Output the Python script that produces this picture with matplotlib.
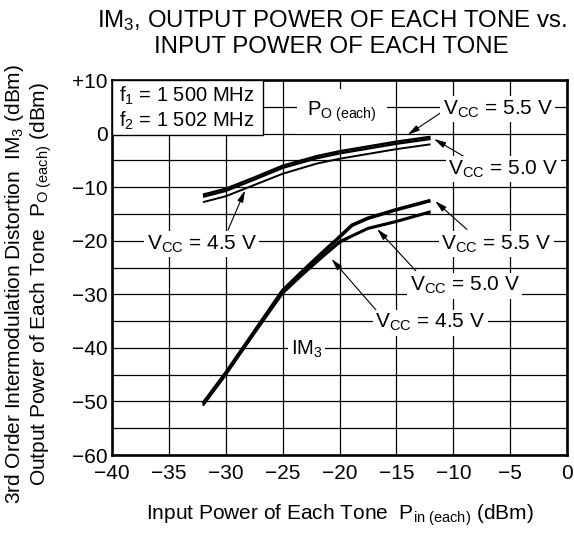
import matplotlib

matplotlib.use("Agg")
import matplotlib.pyplot as plt
from matplotlib import font_manager
from matplotlib.patches import Rectangle

# Input power of each tone (dBm)
pin_po = [-32, -30, -27.5, -25, -22, -20, -17.5, -15, -12]
pin_im3 = [-32, -30, -27.5, -25, -23.3, -21.6, -20, -18.9, -17.5, -15, -12]

# Output power of each tone (dBm)
po_55 = [-11.4, -10.3, -8.2, -6.0, -4.2, -3.3, -2.4, -1.5, -0.6]
po_50 = [-11.8, -10.7, -8.6, -6.4, -4.6, -3.7, -2.8, -1.9, -1.0]
po_45 = [-12.8, -11.7, -9.6, -7.5, -5.6, -4.7, -3.8, -2.9, -2.0]

# 3rd order intermodulation distortion (dBm)
im3_55 = [-50.4, -44.7, -37.0, -29.3, -25.8, -22.4, -19.3, -17.1, -15.8, -14.2, -12.5]
im3_50 = [-50.6, -44.9, -37.2, -29.6, -26.2, -23.0, -20.1, -19.0, -17.6, -16.3, -14.5]
im3_45 = [-50.8, -45.1, -37.4, -29.9, -26.5, -23.3, -20.4, -19.2, -17.8, -16.5, -14.7]

x_ticks = [-40, -35, -30, -25, -20, -15, -10, -5, 0]
x_labels = ["\u221240", "\u221235", "\u221230", "\u221225", "\u221220",
            "\u221215", "\u221210", "\u22125", "0"]
y_ticks = [-60, -50, -40, -30, -20, -10, 0, 10]
y_labels = ["\u221260", "\u221250", "\u221240", "\u221230", "\u221220",
            "\u221210", "0", "+10"]


def pick_font(names):
    installed = {f.name for f in font_manager.fontManager.ttflist}
    for name in names:
        if name in installed:
            return name
    return "DejaVu Sans"


BASE = pick_font(["Liberation Sans", "Arial", "DejaVu Sans"])

plt.rcParams["font.family"] = [BASE, "DejaVu Sans"]
plt.rcParams["mathtext.fontset"] = "custom"
plt.rcParams["mathtext.rm"] = BASE
plt.rcParams["mathtext.it"] = BASE

VCC = r"V$_{\mathrm{CC}}$"
label_box = dict(boxstyle="square,pad=0.12", fc="white", ec="none")
arrow = dict(arrowstyle="-|>,head_length=0.7,head_width=0.18",
             color="black", lw=0.8, shrinkA=0, shrinkB=0)

fig = plt.figure(figsize=(5.74, 5.33), dpi=100)
ax = fig.add_axes([0.195, 0.1463, 0.793, 0.7036])

ax.set_xlim(-40, 0)
ax.set_ylim(-60, 10)
ax.set_xticks(x_ticks)
ax.set_xticklabels(x_labels)
ax.set_yticks(y_ticks)
ax.set_yticklabels(y_labels)
ax.set_yticks(range(-55, 10, 10), minor=True)
ax.tick_params(which="both", length=0, labelsize=15, pad=3)
ax.tick_params(axis="x", pad=6.5)
ax.grid(True, which="both", color="black", lw=0.9)
ax.set_axisbelow(True)
for spine in ax.spines.values():
    spine.set_linewidth(1.9)

# output power curves
ax.plot(pin_po, po_55, color="black", lw=1.7, solid_capstyle="butt", zorder=3)
ax.plot(pin_po, po_50, color="black", lw=1.7, solid_capstyle="butt", zorder=3)
ax.plot(pin_po, po_45, color="black", lw=1.4, solid_capstyle="butt", zorder=3)

# IM3 curves
ax.plot(pin_im3, im3_55, color="black", lw=2.6, solid_capstyle="butt", zorder=3)
ax.plot(pin_im3, im3_50, color="black", lw=1.5, solid_capstyle="butt", zorder=3)
ax.plot(pin_im3, im3_45, color="black", lw=1.5, solid_capstyle="butt", zorder=3)

# test condition box
ax.add_patch(Rectangle((-40, -0.3), 13.3, 10.3, fc="white", ec="black",
                       lw=1.0, zorder=4))
ax.text(-39.4, 7.1, "f$_1$ = 1 500 MHz", fontsize=14.5, va="center", zorder=5)
ax.text(-39.4, 2.4, "f$_2$ = 1 502 MHz", fontsize=14.5, va="center", zorder=5)

ax.text(-19.8, 4.1, r"P$_{\mathrm{O\ (each)}}$", fontsize=14.5, ha="center",
        va="center", zorder=5,
        bbox=dict(boxstyle="square,pad=0.5", fc="white", ec="none"))
ax.text(-22.9, -40.2, "IM$_3$", fontsize=14.5, ha="center", va="center",
        zorder=5, bbox=label_box)

# supply voltage labels with leader arrows
ax.text(-6.1, 4.6, VCC + " = 5.5 V", fontsize=15, ha="center", va="center",
        zorder=5, bbox=label_box)
ax.annotate("", xy=(-14.0, -0.2), xytext=(-10.6, 4.6), arrowprops=arrow, zorder=4)

ax.text(-5.6, -6.6, VCC + " = 5.0 V", fontsize=15, ha="center", va="center",
        zorder=5, bbox=label_box)
ax.annotate("", xy=(-11.7, -1.0), xytext=(-8.8, -4.6), arrowprops=arrow, zorder=4)

ax.text(-32.1, -20.6, VCC + " = 4.5 V", fontsize=15, ha="center", va="center",
        zorder=5, bbox=label_box)
ax.annotate("", xy=(-28.3, -10.6), xytext=(-29.8, -18.0), arrowprops=arrow, zorder=4)

ax.text(-6.2, -20.6, VCC + " = 5.5 V", fontsize=15, ha="center", va="center",
        zorder=5, bbox=label_box)
ax.annotate("", xy=(-11.6, -12.6), xytext=(-8.8, -17.9), arrowprops=arrow, zorder=4)

ax.text(-9.0, -28.4, VCC + " = 5.0 V", fontsize=15, ha="center", va="center",
        zorder=5, bbox=label_box)
ax.annotate("", xy=(-16.7, -17.8), xytext=(-13.3, -25.6), arrowprops=arrow, zorder=4)

ax.text(-12.0, -35.3, VCC + " = 4.5 V", fontsize=15, ha="center", va="center",
        zorder=5, bbox=label_box)
ax.annotate("", xy=(-20.7, -23.4), xytext=(-16.4, -33.9), arrowprops=arrow, zorder=4)

fig.text(0.578, 0.985, "IM$_3$, OUTPUT POWER OF EACH TONE vs.\nINPUT POWER OF EACH TONE",
         ha="center", va="top", fontsize=17.3, linespacing=1.2)

fig.text(0.593, 0.034, r"Input Power of Each Tone  P$_{\mathrm{in\ (each)}}$ (dBm)",
         ha="center", va="center", fontsize=15)
fig.text(0.025, 0.468, "3rd Order Intermodulation Distortion  IM$_3$ (dBm)",
         rotation=90, ha="center", va="center", fontsize=15)
fig.text(0.071, 0.468, r"Output Power of Each Tone  P$_{\mathrm{O\ (each)}}$ (dBm)",
         rotation=90, ha="center", va="center", fontsize=15)

fig.savefig("out.png", dpi=100)
